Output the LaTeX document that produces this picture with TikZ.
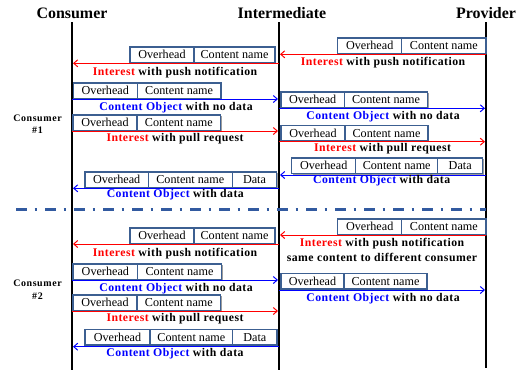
\documentclass[tikz,border=0pt]{standalone}
\usepackage{fontspec}
\setmainfont{Liberation Serif}
\newfontfamily\lblfont[LetterSpace=4]{Liberation Serif}
\newfontfamily\smlfont[LetterSpace=6]{Liberation Serif}
\usetikzlibrary{arrows.meta,shadows}
\definecolor{boxc}{RGB}{60,95,145}
\definecolor{sepc}{RGB}{50,90,160}
\newcommand{\bx}[5]{\node[pbox,minimum width={(#3-#2)*1bp},anchor=south west] (#1) at (#2,#4) {#5};}
\begin{document}
\begin{tikzpicture}[x=1bp,y=-1bp,
  pbox/.style={draw=boxc, line width=1.5bp, fill=white, inner sep=0pt, outer sep=0pt,
    minimum height=15.5bp, font=\fontsize{12.2}{13}\selectfont,
    drop shadow={shadow xshift=1.2bp,shadow yshift=-1.2bp,fill=black!70,opacity=0.55}},
  lbl/.style={font=\lblfont\bfseries\fontsize{11.8}{14}\selectfont, inner sep=0pt, anchor=center},
  head/.style={font=\bfseries\fontsize{16}{18}\selectfont, inner sep=0pt},
  cons/.style={font=\smlfont\bfseries\fontsize{10}{12.5}\selectfont, inner sep=0pt, align=center},
  life/.style={line width=2bp, black},
  redarr/.style={draw=red, line width=1bp, -{Straight Barb[length=4bp,width=7bp]}},
  bluearr/.style={draw=blue, line width=1bp, -{Straight Barb[length=4bp,width=7bp]}},
  sep/.style={draw=sepc, line width=2.7bp, dash pattern=on 10.5bp off 8bp on 2.5bp off 8bp}
]
\useasboundingbox (0,0) rectangle (525,371);
% headers
\node[head] (hc) at (72,13) {Consumer};
\node[head] (hi) at (282,13) {Intermediate};
\node[head] (hp) at (486,13) {Provider};
% lifelines
\coordinate (ct) at (72,22); \coordinate (cb) at (72,370);
\coordinate (it) at (279,22); \coordinate (ib) at (279,370);
\coordinate (pt) at (486,22); \coordinate (pb) at (486,368);
\draw[life] (ct) -- (cb);
\draw[life] (it) -- (ib);
\draw[life] (pt) -- (pb);
% consumer labels
\node[cons] (c1) at (37.5,124) {Consumer\\\#1};
\node[cons] (c2) at (37.5,289.5) {Consumer\\\#2};
% separator
\coordinate (s1) at (16,209.3); \coordinate (s2) at (486,209.3);
\draw[sep] (s1) -- (s2);

% 1
\bx{b1a}{337.7}{401.7}{53.3}{Overhead}
\bx{b1b}{401.7}{486}{53.3}{Content name}
\coordinate (a1s) at (486,54.3); \coordinate (a1e) at (280,54.3);
\draw[redarr] (a1s) -- (a1e);
\node[lbl] (l1) at (383,62.7) {{\color{red}Interest} with push notification};
% 2
\bx{b2a}{130}{194}{62.3}{Overhead}
\bx{b2b}{194}{275}{62.3}{Content name}
\coordinate (a2s) at (279,63.3); \coordinate (a2e) at (73,63.3);
\draw[redarr] (a2s) -- (a2e);
\node[lbl] (l2) at (175,72.3) {{\color{red}Interest} with push notification};
% 3
\bx{b3a}{73.3}{137.3}{98.3}{Overhead}
\bx{b3b}{137.3}{221}{98.3}{Content name}
\coordinate (a3s) at (72,99); \coordinate (a3e) at (278,99);
\draw[bluearr] (a3s) -- (a3e);
\node[lbl] (l3) at (176,108) {{\color{blue}Content Object} with no data};
% 4
\bx{b4a}{281}{344.3}{107.3}{Overhead}
\bx{b4b}{344.3}{427.7}{107.3}{Content name}
\coordinate (a4s) at (279,108.3); \coordinate (a4e) at (485,108.3);
\draw[bluearr] (a4s) -- (a4e);
\node[lbl] (l4) at (383,116.7) {{\color{blue}Content Object} with no data};
% 5
\bx{b5a}{73}{137}{130.5}{Overhead}
\bx{b5b}{137}{220.7}{130.5}{Content name}
\coordinate (a5s) at (72,131); \coordinate (a5e) at (278,131);
\draw[redarr] (a5s) -- (a5e);
\node[lbl] (l5) at (175,138.5) {{\color{red}Interest} with pull request};
% 6
\bx{b6a}{281}{345}{141}{Overhead}
\bx{b6b}{345}{428}{141}{Content name}
\coordinate (a6s) at (279,141.7); \coordinate (a6e) at (485,141.7);
\draw[redarr] (a6s) -- (a6e);
\node[lbl] (l6) at (382.5,149) {{\color{red}Interest} with pull request};
% 7
\bx{b7a}{291.7}{355.7}{173.3}{Overhead}
\bx{b7b}{355.7}{437.7}{173.3}{Content name}
\bx{b7c}{437.7}{482.7}{173.3}{Data}
\coordinate (a7s) at (486,175); \coordinate (a7e) at (280,175);
\draw[bluearr] (a7s) -- (a7e);
\node[lbl] (l7) at (381.7,181) {{\color{blue}Content Object} with data};
% 8
\bx{b8a}{85}{148.3}{187.3}{Overhead}
\bx{b8b}{148.3}{232.3}{187.3}{Content name}
\bx{b8c}{232.3}{276.7}{187.3}{Data}
\coordinate (a8s) at (279,188.3); \coordinate (a8e) at (73,188.3);
\draw[bluearr] (a8s) -- (a8e);
\node[lbl] (l8) at (175.3,194.3) {{\color{blue}Content Object} with data};

% 9
\bx{b9a}{337.7}{401.7}{234.3}{Overhead}
\bx{b9b}{401.7}{486}{234.3}{Content name}
\coordinate (a9s) at (486,235); \coordinate (a9e) at (280,235);
\draw[redarr] (a9s) -- (a9e);
\node[lbl] (l9) at (382,243.3) {{\color{red}Interest} with push notification};
\node[lbl] (l9b) at (382,257.7) {same content to different consumer};
% 10
\bx{b10a}{130}{194}{243.3}{Overhead}
\bx{b10b}{194}{275}{243.3}{Content name}
\coordinate (a10s) at (279,244); \coordinate (a10e) at (73,244);
\draw[redarr] (a10s) -- (a10e);
\node[lbl] (l10) at (175,253.3) {{\color{red}Interest} with push notification};
% 11
\bx{b11a}{73}{137.7}{279.3}{Overhead}
\bx{b11b}{137.7}{221.3}{279.3}{Content name}
\coordinate (a11s) at (72,280); \coordinate (a11e) at (278,280);
\draw[bluearr] (a11s) -- (a11e);
\node[lbl] (l11) at (176,288.7) {{\color{blue}Content Object} with no data};
% 12
\bx{b12a}{281}{344}{289}{Overhead}
\bx{b12b}{344}{427}{289}{Content name}
\coordinate (a12s) at (279,290); \coordinate (a12e) at (485,290);
\draw[bluearr] (a12s) -- (a12e);
\node[lbl] (l12) at (383,298.3) {{\color{blue}Content Object} with no data};
% 13
\bx{b13a}{73}{137}{310.5}{Overhead}
\bx{b13b}{137}{220.7}{310.5}{Content name}
\coordinate (a13s) at (72,311); \coordinate (a13e) at (278,311);
\draw[redarr] (a13s) -- (a13e);
\node[lbl] (l13) at (175,319) {{\color{red}Interest} with pull request};
% 14
\bx{b14a}{85}{150}{345}{Overhead}
\bx{b14b}{150}{232.7}{345}{Content name}
\bx{b14c}{232.7}{277}{345}{Data}
\coordinate (a14s) at (279,346.7); \coordinate (a14e) at (73,346.7);
\draw[bluearr] (a14s) -- (a14e);
\node[lbl] (l14) at (175,353.3) {{\color{blue}Content Object} with data};
\end{tikzpicture}
\end{document}
